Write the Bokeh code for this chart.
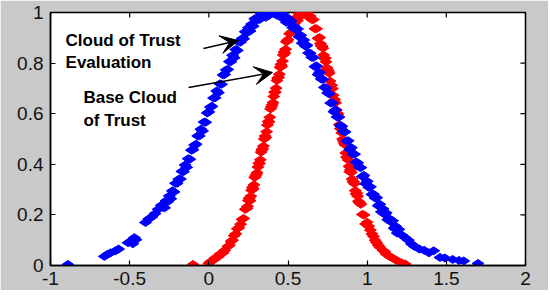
from bokeh.plotting import figure
from bokeh.models import Range1d, FixedTicker, Arrow, VeeHead
from bokeh.embed import file_html
from bokeh.resources import INLINE
from bokeh.core.properties import value

x_ticks = [-1, -0.5, 0, 0.5, 1, 1.5, 2]
x_tick_labels = ["-1", "-0.5", "0", "0.5", "1", "1.5", "2"]
y_ticks = [0, 0.2, 0.4, 0.6, 0.8, 1]
y_tick_labels = ["0", "0.2", "0.4", "0.6", "0.8", "1"]

# Cloud of Trust Evaluation (blue drops)
blue_left_x = [0.40, 0.39, 0.38, 0.37, 0.36, 0.35, 0.34, 0.33, 0.32, 0.31,
               0.30, 0.29, 0.28, 0.27, 0.26, 0.25, 0.24, 0.23, 0.22, 0.21,
               0.20, 0.19, 0.18, 0.17, 0.16, 0.15, 0.14, 0.13, 0.12, 0.11,
               0.10, 0.09, 0.08, 0.07, 0.06, 0.05, 0.04, 0.03, 0.02, 0.01,
               0.00, -0.01, -0.02, -0.03, -0.04, -0.05, -0.06, -0.07, -0.08, -0.09,
               -0.10, -0.11, -0.12, -0.13, -0.14, -0.15, -0.16, -0.17, -0.18, -0.19,
               -0.20, -0.21, -0.22, -0.23, -0.24, -0.25, -0.26, -0.27, -0.28, -0.29,
               -0.30, -0.32, -0.34, -0.36, -0.38, -0.40,
               -0.46, -0.47, -0.48, -0.49, -0.51,
               -0.57, -0.59, -0.62, -0.64, -0.66, -0.89]
blue_left_y = [1.000, 1.000, 0.989, 1.000, 0.981, 1.000, 0.985, 0.995, 0.972, 0.979,
               0.969, 0.975, 0.946, 0.954, 0.927, 0.940, 0.919, 0.924, 0.896, 0.897,
               0.883, 0.883, 0.850, 0.854, 0.821, 0.831, 0.806, 0.806, 0.775, 0.773,
               0.755, 0.753, 0.716, 0.718, 0.683, 0.690, 0.663, 0.662, 0.629, 0.626,
               0.607, 0.603, 0.566, 0.567, 0.532, 0.539, 0.512, 0.512, 0.479, 0.476,
               0.458, 0.456, 0.420, 0.422, 0.388, 0.397, 0.371, 0.372, 0.342, 0.341,
               0.325, 0.325, 0.291, 0.295, 0.264, 0.275, 0.252, 0.256, 0.228, 0.230,
               0.238, 0.222, 0.205, 0.192, 0.184, 0.170,
               0.102, 0.110, 0.086, 0.098, 0.090,
               0.065, 0.058, 0.050, 0.044, 0.036, 0.004]
blue_right_x = [0.40, 0.41, 0.42, 0.43, 0.44, 0.45, 0.46, 0.47, 0.48, 0.49,
                0.50, 0.51, 0.52, 0.53, 0.54, 0.55, 0.56, 0.57, 0.58, 0.59,
                0.60, 0.61, 0.62, 0.63, 0.64, 0.65, 0.66, 0.67, 0.68, 0.69,
                0.70, 0.71, 0.72, 0.73, 0.74, 0.75, 0.76, 0.77, 0.78, 0.79,
                0.80, 0.81, 0.82, 0.83, 0.84, 0.85, 0.86, 0.87, 0.88, 0.89,
                0.90, 0.91, 0.92, 0.93, 0.94, 0.95, 0.96, 0.97, 0.98, 0.99,
                1.00, 1.01, 1.02, 1.03, 1.04, 1.05, 1.06, 1.07, 1.08, 1.09,
                1.10, 1.11, 1.12, 1.13, 1.14, 1.15, 1.16, 1.17, 1.18, 1.19,
                1.20,
                1.22, 1.24, 1.26, 1.28, 1.30, 1.33, 1.36, 1.39, 1.42, 1.46,
                1.49, 1.54, 1.58, 1.61, 1.70]
blue_right_y = [1.000, 0.996, 1.000, 0.989, 0.999, 0.992, 1.000, 0.975, 0.986, 0.961,
                0.977, 0.959, 0.966, 0.940, 0.945, 0.932, 0.935, 0.904, 0.910, 0.879,
                0.891, 0.867, 0.870, 0.840, 0.839, 0.823, 0.822, 0.786, 0.789, 0.755,
                0.763, 0.737, 0.736, 0.704, 0.701, 0.682, 0.679, 0.642, 0.643, 0.608,
                0.615, 0.587, 0.586, 0.553, 0.550, 0.531, 0.528, 0.492, 0.493, 0.458,
                0.466, 0.440, 0.440, 0.408, 0.406, 0.389, 0.387, 0.352, 0.356, 0.323,
                0.333, 0.309, 0.311, 0.281, 0.282, 0.267, 0.268, 0.236, 0.242, 0.212,
                0.224, 0.203, 0.208, 0.181, 0.185, 0.173, 0.177, 0.147, 0.155, 0.128,
                0.143,
                0.120, 0.110, 0.100, 0.085, 0.075, 0.065, 0.060, 0.050, 0.058, 0.032,
                0.030, 0.024, 0.020, 0.018, 0.008]

# Base Cloud of Trust (red drops)
red_left_x = [0.60, 0.59, 0.58, 0.57, 0.56, 0.55, 0.54, 0.53, 0.52, 0.51,
              0.50, 0.49, 0.48, 0.47, 0.46, 0.45, 0.44, 0.43, 0.42, 0.41,
              0.40, 0.39, 0.38, 0.37, 0.36, 0.35, 0.34, 0.33, 0.32, 0.31,
              0.30, 0.29, 0.28, 0.27, 0.26, 0.25, 0.24, 0.23, 0.22, 0.21,
              0.20,
              0.495, 0.485, 0.475, 0.465, 0.455, 0.445, 0.435, 0.425, 0.415, 0.405,
              0.395, 0.385, 0.375, 0.365, 0.355, 0.345, 0.335, 0.325, 0.315, 0.305,
              0.295, 0.285, 0.275, 0.265, 0.255, 0.245,
              0.19, 0.18, 0.17, 0.16, 0.15, 0.14, 0.13, 0.12, 0.10, 0.09,
              0.07, 0.06, 0.04, 0.03, 0.01, 0.00, -0.10]
red_left_y = [1.000, 1.000, 0.986, 0.996, 0.968, 0.980, 0.956, 0.956, 0.922, 0.916,
              0.893, 0.884, 0.839, 0.832, 0.787, 0.783, 0.744, 0.731, 0.685, 0.668,
              0.635, 0.619, 0.568, 0.555, 0.506, 0.500, 0.461, 0.448, 0.403, 0.389,
              0.360, 0.348, 0.303, 0.297, 0.256, 0.257, 0.226, 0.222, 0.186, 0.182,
              0.163,
              0.889, 0.855, 0.844, 0.808, 0.794, 0.756, 0.741, 0.701, 0.685, 0.644,
              0.627, 0.586, 0.569, 0.529, 0.512, 0.472, 0.457, 0.418, 0.404, 0.367,
              0.354, 0.319, 0.308, 0.274, 0.266, 0.234,
              0.150, 0.145, 0.125, 0.118, 0.100, 0.095, 0.080, 0.075, 0.060, 0.050,
              0.045, 0.035, 0.030, 0.022, 0.015, 0.008, 0.004]
red_right_x = [0.60, 0.61, 0.62, 0.63, 0.64, 0.65, 0.66, 0.67, 0.68, 0.69,
               0.70, 0.71, 0.72, 0.73, 0.74, 0.75, 0.76, 0.77, 0.78, 0.79,
               0.80, 0.81, 0.82, 0.83, 0.84, 0.85, 0.86, 0.87, 0.88, 0.89,
               0.90, 0.91, 0.92, 0.93, 0.94, 0.95, 0.96, 0.97, 0.98, 0.99,
               1.00,
               0.705, 0.715, 0.725, 0.735, 0.745, 0.755, 0.765, 0.775, 0.785, 0.795,
               0.805, 0.815, 0.825, 0.835, 0.845, 0.855, 0.865, 0.875, 0.885, 0.895,
               0.905, 0.915, 0.925, 0.935, 0.945, 0.955,
               1.01, 1.02, 1.03, 1.04, 1.05, 1.06, 1.07, 1.08, 1.10, 1.11,
               1.12, 1.14, 1.16, 1.18, 1.20, 1.22, 1.24]
red_right_y = [1.000, 0.995, 1.000, 0.982, 0.986, 0.972, 0.972, 0.936, 0.936, 0.898,
               0.901, 0.868, 0.859, 0.818, 0.805, 0.775, 0.760, 0.711, 0.699, 0.650,
               0.643, 0.603, 0.588, 0.541, 0.524, 0.492, 0.477, 0.428, 0.417, 0.371,
               0.368, 0.332, 0.323, 0.283, 0.274, 0.249, 0.242, 0.202, 0.200, 0.164,
               0.171,
               0.877, 0.867, 0.832, 0.820, 0.782, 0.768, 0.729, 0.713, 0.673, 0.656,
               0.615, 0.598, 0.557, 0.541, 0.500, 0.484, 0.445, 0.430, 0.392, 0.379,
               0.342, 0.331, 0.296, 0.286, 0.254, 0.246,
               0.155, 0.140, 0.125, 0.115, 0.100, 0.090, 0.080, 0.072, 0.060, 0.055,
               0.045, 0.036, 0.030, 0.022, 0.015, 0.010, 0.006]

blue_x = blue_left_x + blue_right_x
blue_y = blue_left_y + blue_right_y
red_x = red_left_x + red_right_x
red_y = red_left_y + red_right_y

annot_lines = ["Cloud of Trust", "Evaluation", "Base Cloud", "of Trust"]

FONT = "Liberation Sans"
X_MIN, X_MAX, Y_MIN, Y_MAX = -1, 2, 0, 1

p = figure(width=548, height=290,
           x_range=Range1d(X_MIN, X_MAX), y_range=Range1d(Y_MIN, Y_MAX),
           output_backend="svg", toolbar_location=None,
           min_border_left=50, min_border_right=23,
           min_border_top=12, min_border_bottom=25,
           background_fill_color="white", border_fill_color="#c9c9c9",
           outline_line_color="black", outline_line_width=1.5)

p.xgrid.visible = False
p.ygrid.visible = False


def style_axis(ax, ticks, labels, standoff):
    ax.ticker = FixedTicker(ticks=ticks)
    ax.major_label_overrides = dict(zip(ticks, labels))
    ax.axis_line_color = "black"
    ax.axis_line_width = 1.5
    ax.major_tick_in = 5
    ax.major_tick_out = 0
    ax.major_tick_line_color = "black"
    ax.major_tick_line_width = 1.2
    ax.minor_tick_line_color = None
    ax.major_label_text_font = FONT
    ax.major_label_text_color = "#111111"
    ax.major_label_text_font_size = "19px"
    ax.major_label_standoff = standoff


style_axis(p.xaxis[0], x_ticks, x_tick_labels, 6)
style_axis(p.yaxis[0], y_ticks, y_tick_labels, 7)

# inward ticks on the top and right edges of the box (MATLAB style)
tick_dy = 0.02
tick_dx = 0.032
p.segment(x0=x_ticks, y0=[Y_MAX] * len(x_ticks), x1=x_ticks,
          y1=[Y_MAX - tick_dy] * len(x_ticks), line_color="black", line_width=1.2)
p.segment(x0=[X_MAX] * len(y_ticks), y0=y_ticks, x1=[X_MAX - tick_dx] * len(y_ticks),
          y1=y_ticks, line_color="black", line_width=1.2)

p.scatter(red_x, red_y, marker="diamond", size=12, angle=1.5708,
          fill_color="#ff0000", line_color="#ff0000", line_width=1)
p.scatter(blue_x, blue_y, marker="diamond", size=12, angle=1.5708,
          fill_color="#0000ff", line_color="#0000ff", line_width=1)

p.text(x=[-0.905, -0.905, -0.792, -0.792], y=[0.889, 0.802, 0.664, 0.573],
       text=annot_lines, text_font=value(FONT), text_font_size=value("17px"),
       text_font_style="bold", text_color="black",
       text_align="left", text_baseline="alphabetic")

p.add_layout(Arrow(end=VeeHead(size=18, fill_color="black", line_color="black"),
                   x_start=-0.034, y_start=0.858, x_end=0.187, y_end=0.889,
                   line_color="black", line_width=1.5))
p.add_layout(Arrow(end=VeeHead(size=18, fill_color="black", line_color="black"),
                   x_start=-0.128, y_start=0.704, x_end=0.402, y_end=0.763,
                   line_color="black", line_width=1.5))

open("out.html", "w").write(file_html(p, INLINE))
